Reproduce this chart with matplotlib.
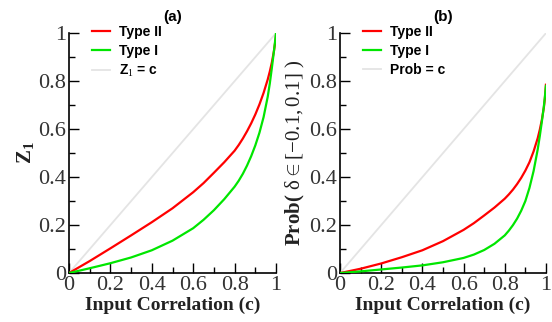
import matplotlib
matplotlib.use("Agg")
from matplotlib import pyplot as plt
from matplotlib.ticker import MultipleLocator

# input correlation values
c = [0, 0.1, 0.2, 0.3, 0.4, 0.5, 0.6, 0.65, 0.7, 0.75, 0.8, 0.82, 0.84, 0.86,
     0.88, 0.9, 0.92, 0.94, 0.96, 0.97, 0.98, 0.99, 0.995, 1.0]

# (a) Z1
z1_type2 = [0, 0.05, 0.103, 0.157, 0.212, 0.27, 0.337, 0.375, 0.418, 0.462,
            0.51, 0.534, 0.561, 0.591, 0.624, 0.661, 0.703, 0.751, 0.807, 0.84,
            0.878, 0.925, 0.955, 0.99]
z1_type1 = [0, 0.02, 0.041, 0.065, 0.095, 0.135, 0.187, 0.222, 0.262, 0.308,
            0.36, 0.385, 0.414, 0.448, 0.487, 0.532, 0.585, 0.65, 0.735, 0.79,
            0.855, 0.925, 0.962, 1.0]

# (b) Prob(delta in [-0.1, 0.1])
pb_type2 = [0, 0.018, 0.04, 0.066, 0.095, 0.133, 0.18, 0.208, 0.24, 0.273,
            0.31, 0.328, 0.348, 0.371, 0.397, 0.427, 0.462, 0.507, 0.562, 0.597,
            0.638, 0.69, 0.728, 0.785]
pb_type1 = [0, 0.007, 0.015, 0.023, 0.032, 0.045, 0.063, 0.077, 0.096, 0.122,
            0.157, 0.177, 0.2, 0.227, 0.26, 0.3, 0.355, 0.425, 0.515, 0.57,
            0.63, 0.695, 0.735, 0.78]

serif = ['Liberation Serif', 'DejaVu Serif']
sans = ['Liberation Sans', 'DejaVu Sans']

plt.rcParams['mathtext.fontset'] = 'custom'
plt.rcParams['mathtext.rm'] = 'Liberation Serif'
plt.rcParams['mathtext.it'] = 'Liberation Serif'
plt.rcParams['mathtext.bf'] = 'Liberation Serif:bold'

fig = plt.figure(figsize=(5.52, 3.22), dpi=100)
ax1 = fig.add_axes([0.125, 0.152, 0.375, 0.745])
ax2 = fig.add_axes([0.616, 0.152, 0.373, 0.745])

panels = [
    (ax1, z1_type2, z1_type1, r'$\mathbf{Z_1}$', 'Z$_1$ = c', '(a)'),
    (ax2, pb_type2, pb_type1, r'$\mathbf{Prob(}\ \delta \in [-0.1,0.1]\ )$', 'Prob = c', '(b)'),
]

for ax, y2, y1, ylab, diag, title in panels:
    ax.plot(c, y2, color='#ff0000', lw=1.6, label='Type II', zorder=3,
            solid_joinstyle='round')
    ax.plot(c, y1, color='#00e600', lw=1.6, label='Type I', zorder=3,
            solid_joinstyle='round')
    ax.plot([c[0], c[-1]], [c[0], c[-1]], color='#e4e4e4', lw=1.3, label=diag, zorder=2)
    ax.set_xlim(0, 1)
    ax.set_ylim(0, 1)
    for s in ['top', 'right']:
        ax.spines[s].set_visible(False)
    for s in ['left', 'bottom']:
        ax.spines[s].set_linewidth(1.2)
    ax.xaxis.set_major_locator(MultipleLocator(0.2))
    ax.yaxis.set_major_locator(MultipleLocator(0.2))
    ax.xaxis.set_minor_locator(MultipleLocator(0.1))
    ax.yaxis.set_minor_locator(MultipleLocator(0.1))
    ax.tick_params(which='major', direction='in', length=7, width=1, pad=2)
    ax.tick_params(which='minor', direction='in', length=4, width=1)
    ax.xaxis.set_major_formatter(plt.FuncFormatter(lambda v, p: '%g' % v))
    ax.yaxis.set_major_formatter(plt.FuncFormatter(lambda v, p: '%g' % v))
    for lab in ax.get_xticklabels() + ax.get_yticklabels():
        lab.set_fontfamily(serif)
        lab.set_fontsize(16)
        lab.set_color('#333333')
    ax.set_xlabel('Input Correlation (c)', family=serif, fontweight='bold',
                  fontsize=14, color='#222222', labelpad=1)
    ax.set_ylabel(ylab, fontsize=15, color='#222222', labelpad=2)
    ax.set_title(title, family=sans, fontweight='bold', fontsize=11, pad=9)
    ax.legend(loc='upper left', bbox_to_anchor=(0.05, 1.085), frameon=False,
              prop={'family': sans, 'weight': 'bold', 'size': 10},
              handlelength=1.3, handletextpad=0.65, labelspacing=0.35)

fig.savefig('out.png', dpi=100)
